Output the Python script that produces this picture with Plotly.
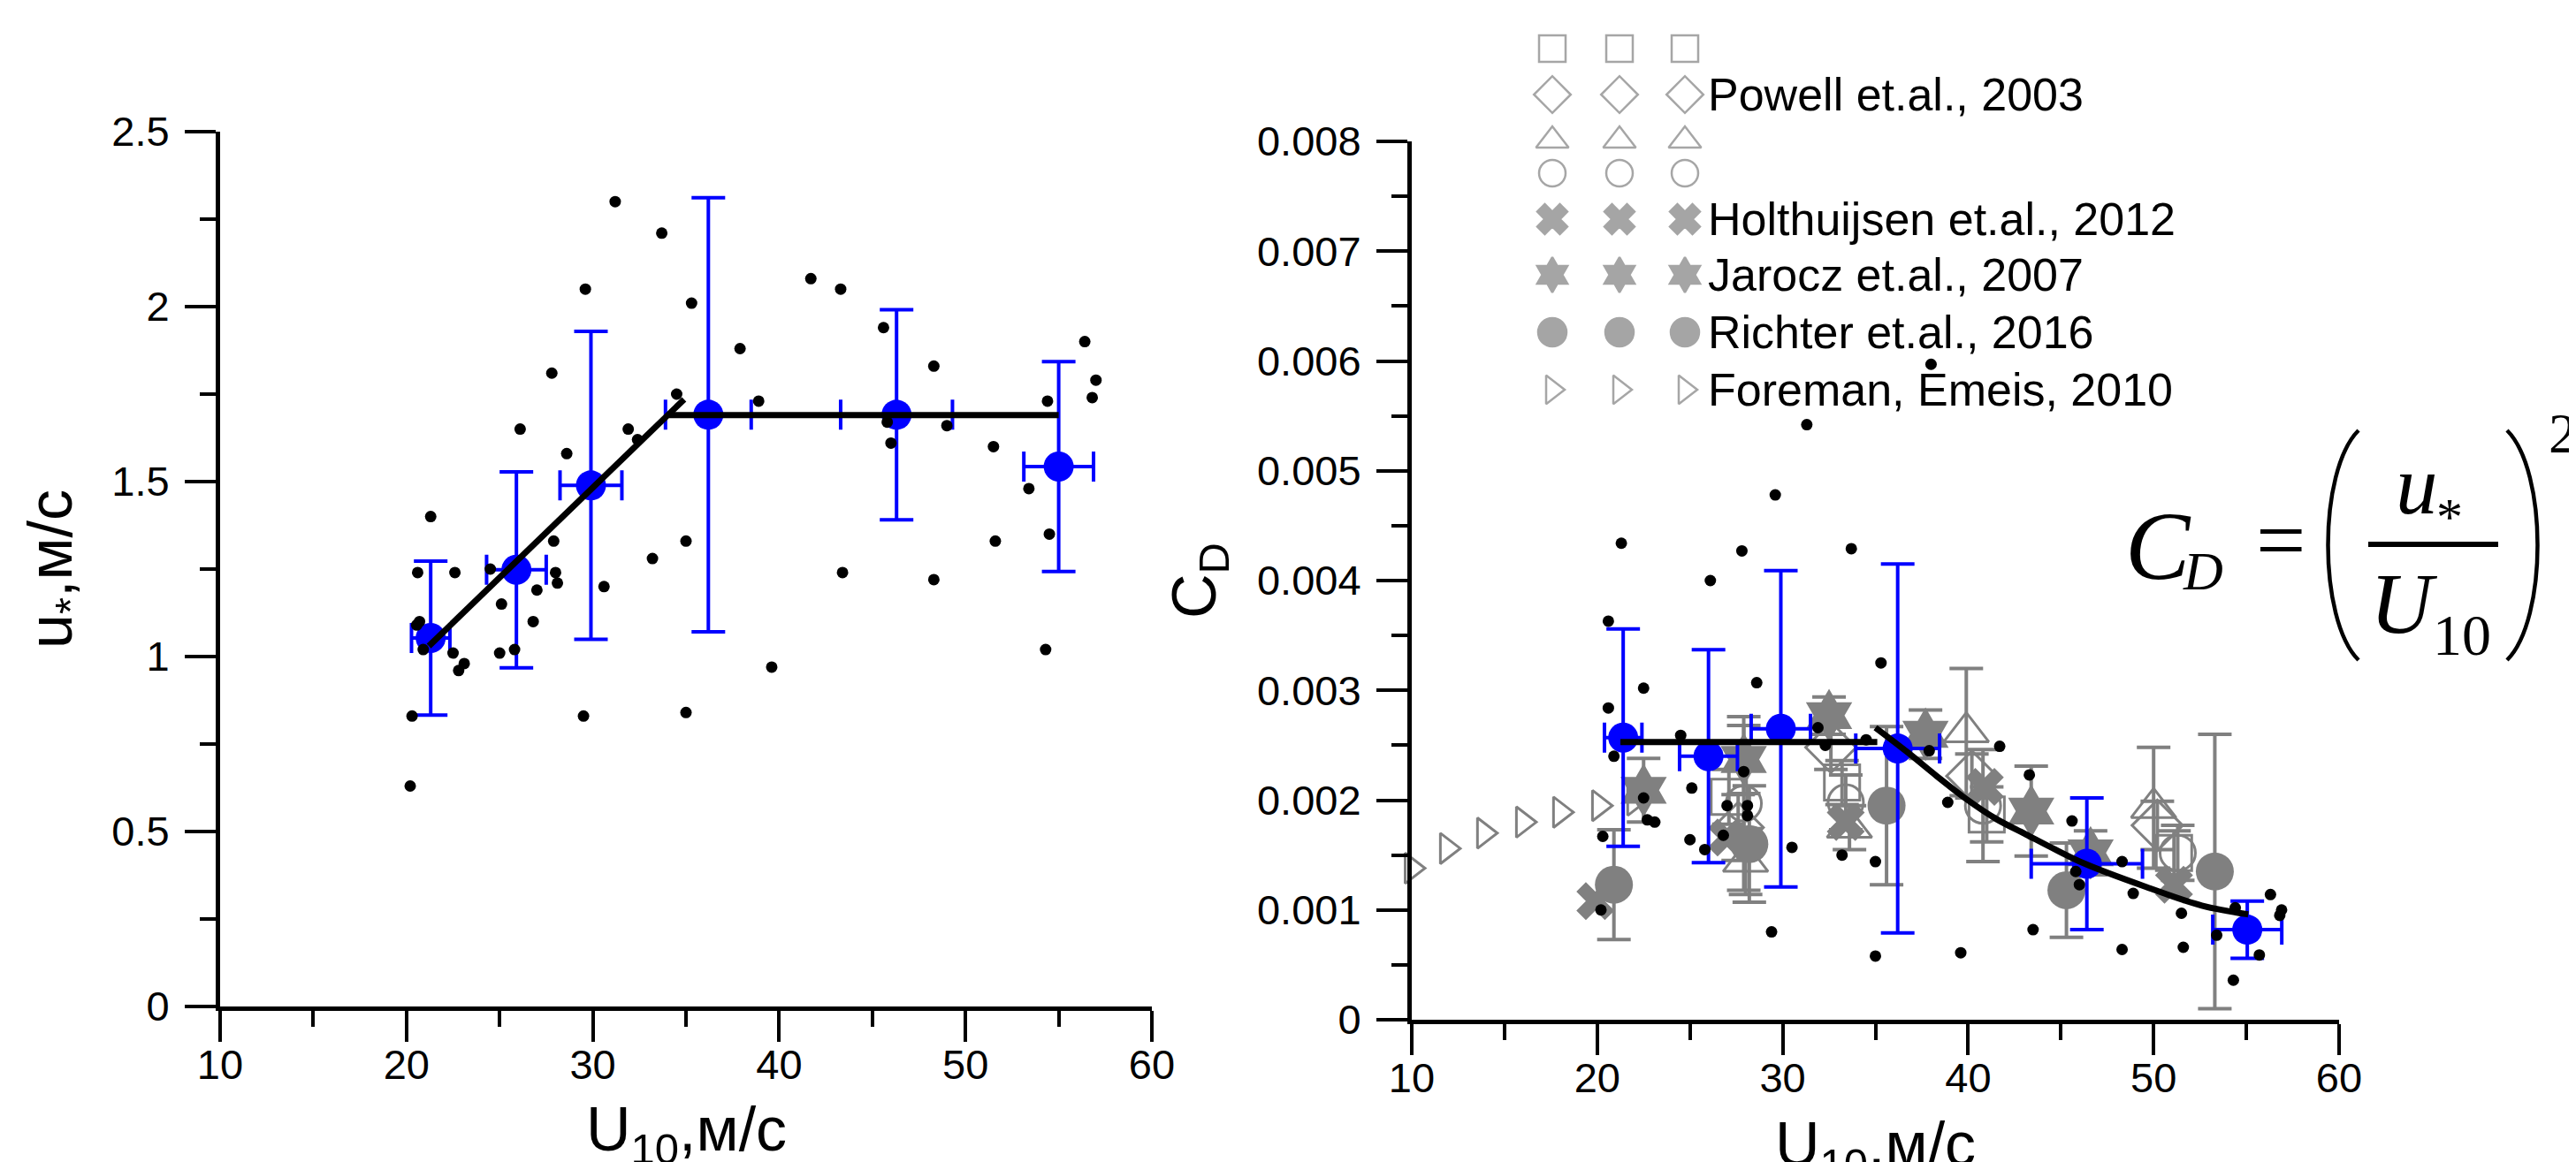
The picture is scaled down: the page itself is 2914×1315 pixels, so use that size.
import numpy as np
import plotly.graph_objects as go

W, H = 2914, 1315

GRAY = "#808080"
BLUE = "#0000FF"
SANS = "Liberation Sans, Arial, sans-serif"
SERIF = "Liberation Serif, Times New Roman, serif"

# ---------------- left panel: u* (m/s) vs U10 (m/s) ----------------
us_dots_u10 = [31.2, 33.7, 29.6, 35.3, 41.7, 43.3, 45.6, 37.9, 27.8, 48.3, 34.5, 38.9, 56.4, 57.0,
               56.8, 54.4, 46.0, 45.8, 49.0, 51.5, 53.4, 26.1, 31.9, 32.4, 28.6, 51.6, 54.5, 35.0,
               33.2, 27.9, 28.0, 28.1, 30.6, 27.0, 26.8, 25.1, 24.5, 22.6, 20.6, 21.3, 20.7, 20.55,
               20.9, 22.5, 23.1, 22.8, 25.0, 25.8, 43.4, 48.3, 39.6, 54.3, 20.3, 29.5, 35.0, 20.2]
us_dots = [2.30, 2.21, 2.05, 2.01, 2.08, 2.05, 1.94, 1.88, 1.81, 1.83, 1.75, 1.73, 1.90, 1.79,
           1.74, 1.73, 1.61, 1.67, 1.66, 1.60, 1.48, 1.65, 1.65, 1.62, 1.58, 1.33, 1.35, 1.33,
           1.28, 1.33, 1.24, 1.21, 1.20, 1.19, 1.10, 1.15, 1.25, 1.24, 1.24, 1.40, 1.10, 1.09,
           1.02, 1.01, 0.98, 0.96, 1.01, 1.02, 1.24, 1.22, 0.97, 1.02, 0.83, 0.83, 0.84, 0.63]

us_bin_u10 = [21.3, 25.9, 29.9, 36.2, 46.3, 55.0]
us_bin_u10_err = [1.03, 1.6, 1.66, 2.3, 3.0, 1.87]
us_bin = [1.053, 1.248, 1.489, 1.691, 1.691, 1.543]
us_bin_err = [0.22, 0.28, 0.44, 0.62, 0.30, 0.30]

us_fit1_u10 = [21.2, 34.9]
us_fit1 = [1.03, 1.735]
us_fit2_u10 = [34.1, 55.0]
us_fit2 = [1.69, 1.69]

# ---------------- right panel: CD vs U10 (CD in units of 1e-3) ----------------
cd_dots_u10 = [31.3, 38.0, 29.6, 21.3, 27.8, 33.7, 26.1, 20.6, 20.6, 22.5, 28.6, 35.3, 20.9, 24.5,
               25.1, 22.5, 22.7, 23.1, 27.0, 28.1, 28.1, 25.0, 25.8, 26.8, 30.5, 31.9, 33.2, 35.0,
               29.4, 20.2, 20.3, 35.0, 39.6, 38.9, 41.7, 43.3, 43.5, 45.6, 45.8, 46.0, 48.3, 48.9,
               48.3, 51.5, 51.6, 53.4, 54.3, 54.4, 55.7, 56.3, 56.9, 56.8, 37.9, 34.5, 32.3, 27.9]
cd_dots = [5.42, 5.97, 4.78, 4.34, 4.27, 4.29, 4.00, 3.63, 2.84, 3.02, 3.07, 3.25, 2.40, 2.59,
           2.11, 2.02, 1.82, 1.80, 1.95, 1.95, 1.86, 1.64, 1.55, 1.68, 1.57, 2.66, 1.50, 1.44,
           0.80, 1.00, 1.67, 0.58, 0.61, 1.98, 2.49, 2.23, 0.82, 1.81, 1.35, 1.23, 1.44, 1.15,
           0.64, 0.97, 0.66, 0.77, 0.36, 1.02, 0.59, 1.14, 1.00, 0.95, 2.45, 2.55, 2.50, 2.26]

cd_bin_u10 = [21.4, 26.0, 29.9, 36.2, 46.4, 55.05]
cd_bin_u10_err = [1.01, 1.56, 1.6, 2.26, 3.0, 1.86]
cd_bin = [2.57, 2.40, 2.65, 2.47, 1.42, 0.82]
cd_bin_err = [0.99, 0.97, 1.44, 1.68, 0.60, 0.26]

cd_fit1_u10 = [21.25, 35.1]
cd_fit1 = [2.53, 2.53]
cd_fit2_u10 = [35.0, 36.7, 38.3, 39.9, 41.5, 43.1, 44.7, 46.3, 49.5, 52.6, 55.1]
cd_fit2 = [2.66, 2.44, 2.22, 2.01, 1.83, 1.69, 1.55, 1.42, 1.215, 1.04, 0.96]

# literature data
powell_sq_u10 = [27.1, 33.2, 41.0, 51.1]
powell_sq = [2.03, 2.16, 1.87, 1.52]
powell_sq_err = [0.25, 0.20, 0.25, 0.20]
powell_di_u10 = [27.6, 32.6, 40.2, 50.2]
powell_di = [1.75, 2.48, 2.22, 1.77]
powell_di_err = [0.30, 0.20, 0.20, 0.22]
powell_tr_u10 = [28.0, 33.6, 39.9, 50.0]
powell_tr = [1.44, 1.75, 2.62, 1.93]
powell_tr_err = [0.30, 0.20, 0.58, 0.55]
powell_ci_u10 = [27.9, 33.4, 40.8, 51.3]
powell_ci = [1.97, 1.98, 1.95, 1.52]
powell_ci_err = [0.79, 0.25, 0.51, 0.25]

holt_u10 = [19.9, 27.0, 33.4, 40.9, 51.1]
holt = [1.08, 1.66, 1.80, 2.12, 1.23]

jarocz_u10 = [22.5, 27.9, 32.5, 37.7, 43.4, 46.6]
jarocz = [2.09, 2.37, 2.77, 2.60, 1.90, 1.52]
jarocz_err = [0.29, 0.31, 0.17, 0.22, 0.41, 0.20]

richter_u10 = [20.9, 28.2, 35.6, 45.3, 53.3]
richter = [1.23, 1.60, 1.95, 1.18, 1.35]
richter_err = [0.50, 0.53, 0.72, 0.43, 1.25]

foreman_u10 = [10.0, 11.9, 13.9, 16.0, 18.0, 20.1, 22.0]
foreman = [1.38, 1.56, 1.70, 1.80, 1.89, 1.95, 2.00]

# legend rows (symbol, label, size)
legend_rows = [
    ("square-open", "", 30),
    ("diamond-open", "Powell et.al., 2003", 32),
    ("triangle-up-open", "", 32),
    ("circle-open", "", 30),
    ("x", "Holthuijsen et.al., 2012", 30),
    ("hexagram", "Jarocz et.al., 2007", 30),
    ("circle", "Richter et.al., 2016", 32),
    ("triangle-right-open", "Foreman, Emeis, 2010", 28),
]

# layout constants (pixels)
LEG_COLS = [1748, 1824, 1898]
LEG_ROWS_Y = [47, 99, 151, 188, 240, 303, 368, 433]
LEG_TEXT_X = 1922


def k(v):
    return np.array(v) * 1e-3


def err(arr, color, w=19):
    return dict(type="data", array=arr, color=color, thickness=4, width=w)


fig = go.Figure()

# ---- left panel ----
fig.add_trace(go.Scatter(
    x=us_bin_u10, y=us_bin, mode="markers", xaxis="x", yaxis="y",
    marker=dict(color=BLUE, size=34),
    error_y=err(us_bin_err, BLUE), error_x=err(us_bin_u10_err, BLUE, 17),
))
fig.add_trace(go.Scatter(x=us_dots_u10, y=us_dots, mode="markers", xaxis="x", yaxis="y",
                         marker=dict(color="black", size=13)))
for xs, ys in [(us_fit1_u10, us_fit1), (us_fit2_u10, us_fit2)]:
    fig.add_trace(go.Scatter(x=xs, y=ys, mode="lines", xaxis="x", yaxis="y",
                             line=dict(color="black", width=7)))

# ---- right panel: literature ----
open_series = [
    (powell_sq_u10, powell_sq, powell_sq_err, "square-open", 40),
    (powell_di_u10, powell_di, powell_di_err, "diamond-open", 44),
    (powell_tr_u10, powell_tr, powell_tr_err, "triangle-up-open", 44),
    (powell_ci_u10, powell_ci, powell_ci_err, "circle-open", 40),
]
for xs, ys, es, sym, sz in open_series:
    fig.add_trace(go.Scatter(
        x=xs, y=k(ys), mode="markers", xaxis="x2", yaxis="y2",
        marker=dict(symbol=sym, size=sz, color=GRAY, line=dict(color=GRAY, width=3)),
        error_y=err(k(es), GRAY),
    ))
fig.add_trace(go.Scatter(
    x=foreman_u10, y=k(foreman), mode="markers", xaxis="x2", yaxis="y2", cliponaxis=False,
    marker=dict(symbol="triangle-right-open", size=30, color=GRAY, line=dict(color=GRAY, width=3)),
))
fig.add_trace(go.Scatter(
    x=holt_u10, y=k(holt), mode="markers", xaxis="x2", yaxis="y2",
    marker=dict(symbol="x", size=38, color=GRAY, line=dict(width=0)),
))
fig.add_trace(go.Scatter(
    x=jarocz_u10, y=k(jarocz), mode="markers", xaxis="x2", yaxis="y2",
    marker=dict(symbol="hexagram", size=46, color=GRAY, line=dict(width=0)),
    error_y=err(k(jarocz_err), GRAY),
))
fig.add_trace(go.Scatter(
    x=richter_u10, y=k(richter), mode="markers", xaxis="x2", yaxis="y2",
    marker=dict(symbol="circle", size=43, color=GRAY, line=dict(width=0)),
    error_y=err(k(richter_err), GRAY),
))

# ---- right panel: this work ----
fig.add_trace(go.Scatter(
    x=cd_bin_u10, y=k(cd_bin), mode="markers", xaxis="x2", yaxis="y2",
    marker=dict(color=BLUE, size=34),
    error_y=err(k(cd_bin_err), BLUE), error_x=err(cd_bin_u10_err, BLUE, 17),
))
fig.add_trace(go.Scatter(x=cd_dots_u10, y=k(cd_dots), mode="markers", xaxis="x2", yaxis="y2",
                         marker=dict(color="black", size=13)))
fig.add_trace(go.Scatter(x=cd_fit1_u10, y=k(cd_fit1), mode="lines", xaxis="x2", yaxis="y2",
                         line=dict(color="black", width=7)))
fig.add_trace(go.Scatter(x=cd_fit2_u10, y=k(cd_fit2), mode="lines", xaxis="x2", yaxis="y2",
                         line=dict(color="black", width=7, shape="spline")))

# ---- legend block (drawn on a pixel overlay axis) ----
leg_x, leg_y, leg_sym, leg_size = [], [], [], []
for (sym, label, sz), ry in zip(legend_rows, LEG_ROWS_Y):
    for cx in LEG_COLS:
        leg_x.append(cx)
        leg_y.append(ry)
        leg_sym.append(sym)
        leg_size.append(sz)
fig.add_trace(go.Scatter(
    x=leg_x, y=leg_y, mode="markers", xaxis="x3", yaxis="y3",
    marker=dict(symbol=leg_sym, size=leg_size, color=GRAY, line=dict(color=GRAY, width=2.5)),
))

annotations = []
for (sym, label, sz), ry in zip(legend_rows, LEG_ROWS_Y):
    if label:
        annotations.append(dict(x=LEG_TEXT_X, y=ry, xref="x3", yref="y3", text=label,
                                showarrow=False, xanchor="left", yanchor="middle",
                                font=dict(family=SANS, size=52, color="black")))

# axis titles
title_font = dict(family=SANS, size=70, color="black")
titles = [
    dict(x=54, y=636, text="u<sub>*</sub>,м/с", textangle=-90),
    dict(x=768, y=1275, text="U<sub>10</sub>,м/с"),
    dict(x=1348, y=649, text="C<sub>D</sub>", textangle=-90),
    dict(x=2113, y=1292, text="U<sub>10</sub>,м/с"),
]
for a in titles:
    a.update(xref="x3", yref="y3", showarrow=False, xanchor="center", yanchor="middle", font=title_font)
annotations += titles

# formula  C_D = (u*/U10)^2
formula = [
    ("<i>C</i>", 2433, 610, 110),
    ("<i>D</i>", 2484, 638, 62),
    ("=", 2572, 603, 100),
    ("<i>u</i>", 2726, 541, 95),
    ("*", 2763, 577, 60),
    ("<i>U</i>", 2711, 675, 98),
    ("10", 2777, 710, 66),
    ("2", 2891, 482, 64),
]
for txt, fx, fy, fs in formula:
    annotations.append(dict(x=fx, y=fy, xref="x3", yref="y3", text=txt, showarrow=False,
                            xanchor="center", yanchor="middle",
                            font=dict(family=SERIF, size=fs, color="black")))

shapes = [
    dict(type="path", xref="x3", yref="y3", path="M 2660 479 C 2614 525 2614 693 2660 739",
         line=dict(color="black", width=4.5)),
    dict(type="path", xref="x3", yref="y3", path="M 2828 479 C 2874 525 2874 693 2828 739",
         line=dict(color="black", width=4.5)),
    dict(type="line", xref="x3", yref="y3", x0=2671, x1=2818, y0=608, y1=608,
         line=dict(color="black", width=6)),
]

axis_common = dict(
    showline=True, linecolor="black", linewidth=5, mirror=False,
    ticks="outside", ticklen=35, tickwidth=4, tickcolor="black",
    showgrid=False, zeroline=False, automargin=False,
    tickfont=dict(family=SANS, size=47, color="black"),
)
minor_x = dict(ticks="outside", ticklen=18, tickwidth=4, tickcolor="black", dtick=5, showgrid=False)

fig.update_layout(
    width=W, height=H, autosize=False,
    margin=dict(l=0, r=0, t=0, b=0, pad=0),
    paper_bgcolor="white", plot_bgcolor="rgba(0,0,0,0)",
    showlegend=False,
    xaxis=dict(domain=[241 / W, 1295 / W], range=[10, 60], dtick=10, anchor="y",
               ticklabelstandoff=-14, minor=minor_x, **axis_common),
    yaxis=dict(domain=[1 - 1131 / H, 1 - 141 / H], range=[0, 2.5], dtick=0.5, anchor="x",
               ticklabelstandoff=8, minor=dict(minor_x, dtick=0.25), **axis_common),
    xaxis2=dict(domain=[1589 / W, 2638 / W], range=[10, 60], dtick=10, anchor="y2",
                ticklabelstandoff=-14, minor=minor_x, **axis_common),
    yaxis2=dict(domain=[1 - 1146 / H, 1 - 152 / H], range=[0, 0.008], anchor="x2",
                tickvals=[0, 0.001, 0.002, 0.003, 0.004, 0.005, 0.006, 0.007, 0.008],
                ticktext=["0", "0.001", "0.002", "0.003", "0.004", "0.005", "0.006", "0.007", "0.008"],
                ticklabelstandoff=8, minor=dict(minor_x, dtick=0.0005), **axis_common),
    xaxis3=dict(domain=[0, 1], range=[0, W], visible=False, anchor="y3", fixedrange=True,
                automargin=False),
    yaxis3=dict(domain=[0, 1], range=[H, 0], visible=False, anchor="x3", fixedrange=True,
                automargin=False),
    annotations=annotations,
    shapes=shapes,
)

fig.write_html("out.html")
